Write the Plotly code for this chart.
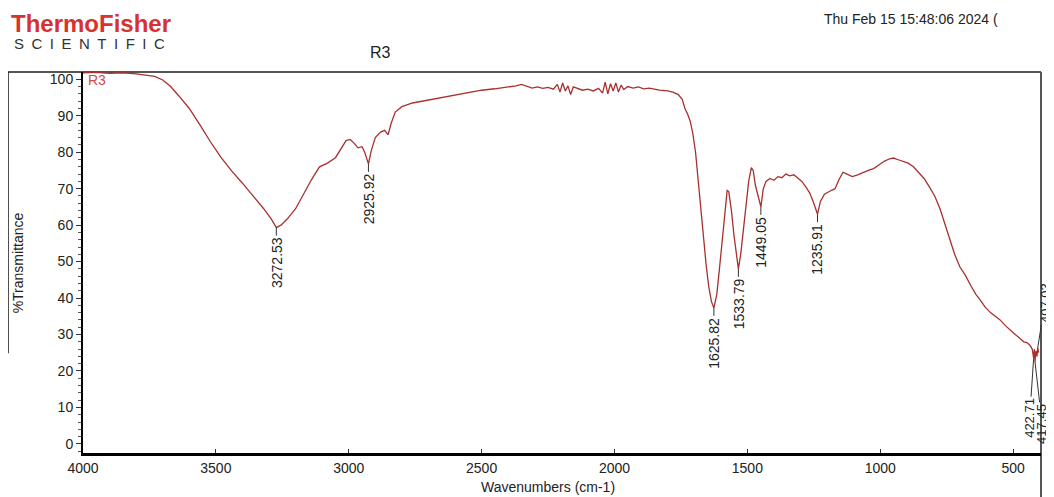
import plotly.graph_objects as go

# ---- data ----
wavenumber = [4000, 3950, 3900, 3850, 3800, 3760, 3730, 3700, 3670, 3640, 3600, 3560, 3520, 3480,
              3440, 3400, 3360, 3320, 3290, 3272.53, 3255, 3230, 3200, 3170, 3140, 3110, 3080, 3050,
              3030, 3010, 2995, 2980, 2965, 2950, 2940, 2925.92, 2915, 2900, 2880, 2865, 2852, 2840,
              2825, 2800, 2760, 2700, 2650, 2600, 2550, 2500, 2450, 2400, 2370, 2350, 2330, 2310,
              2290, 2270, 2250, 2230, 2215, 2205, 2195, 2185, 2175, 2165, 2155, 2140, 2120, 2100,
              2080, 2060, 2045, 2035, 2025, 2015, 2005, 1995, 1985, 1975, 1965, 1950, 1930, 1910,
              1890, 1870, 1850, 1830, 1800, 1780, 1760, 1745, 1735, 1725, 1715, 1705, 1695, 1685,
              1675, 1665, 1655, 1645, 1635, 1625.82, 1615, 1605, 1595, 1585, 1576, 1570, 1560, 1550,
              1540, 1533.79, 1525, 1515, 1505, 1495, 1485, 1478, 1470, 1460, 1449.05, 1440, 1430,
              1415, 1400, 1385, 1370, 1355, 1340, 1325, 1310, 1295, 1280, 1265, 1250, 1235.91, 1225,
              1210, 1190, 1170, 1155, 1140, 1125, 1105, 1085, 1065, 1045, 1025, 1005, 985, 965, 950,
              935, 915, 895, 875, 855, 835, 815, 795, 775, 755, 737, 720, 700, 680, 660, 640, 624,
              605, 585, 565, 549, 530, 512, 492, 475, 460, 448, 436, 428, 422.71, 420, 417.45, 414,
              410, 407.03, 404]
transmittance = [101.8, 101.9, 101.6, 101.8, 101.5, 101.2, 100.8, 99.8, 98.0, 95.5, 92.0, 87.5, 82.8,
                 78.5, 74.8, 71.5, 68.0, 64.5, 61.5, 59.3, 60.0, 61.8, 64.5, 68.5, 72.5, 76.0, 77.0,
                 78.5, 81.0, 83.2, 83.5, 82.5, 81.2, 81.5, 80.0, 76.8, 80.5, 84.0, 85.5, 86.0, 84.8,
                 88.0, 91.0, 92.5, 93.5, 94.3, 95.0, 95.8, 96.5, 97.0, 97.4, 97.8, 98.2, 98.6, 98.2,
                 97.6, 97.9, 97.5, 97.8, 97.3, 98.6, 96.5, 99.0, 96.8, 98.2, 95.8, 97.9, 97.5, 97.0,
                 97.3, 96.8, 97.5, 96.2, 99.2, 96.0, 98.8, 96.8, 99.0, 96.5, 98.4, 97.2, 98.0, 97.6,
                 97.9, 97.4, 97.6, 97.2, 97.0, 96.8, 96.5, 95.8, 94.5, 92.0, 90.5, 88.5, 85.0, 80.0,
                 72.0, 64.0, 56.0, 49.0, 43.0, 39.0, 37.3, 41.0, 48.0, 56.0, 63.5, 69.5, 69.2, 64.0,
                 57.0, 50.5, 48.0, 52.0, 58.5, 66.0, 72.0, 75.8, 75.0, 71.0, 68.0, 65.0, 70.0, 72.0,
                 72.8, 72.3, 73.3, 73.0, 74.0, 73.5, 73.8, 73.0, 72.0, 70.5, 68.8, 66.0, 63.0, 66.5,
                 68.5, 69.3, 70.0, 72.5, 74.5, 74.0, 73.3, 73.8, 74.5, 75.0, 75.5, 76.5, 77.5, 78.2,
                 78.4, 78.0, 77.6, 77.0, 76.0, 74.5, 72.8, 70.5, 68.0, 64.5, 60.0, 56.0, 52.0, 48.5,
                 46.3, 43.5, 41.0, 39.5, 37.5, 36.0, 35.0, 34.0, 32.5, 31.2, 30.0, 29.0, 28.0, 27.8,
                 27.0, 26.0, 23.5, 26.0, 22.5, 25.5, 24.0, 26.5, 25.0]

peak_labels = ["3272.53", "2925.92", "1625.82", "1533.79", "1449.05", "1235.91"]
peak_wn = [3272.53, 2925.92, 1625.82, 1533.79, 1449.05, 1235.91]
peak_t = [59.3, 76.8, 37.3, 48.0, 65.0, 63.0]

end_labels = ["422.71", "417.45", "407.03"]
end_wn = [422.71, 417.45, 407.03]
end_t = [23.5, 22.5, 26.5]

x_ticks = [4000, 3500, 3000, 2500, 2000, 1500, 1000, 500]
y_ticks = [0, 10, 20, 30, 40, 50, 60, 70, 80, 90, 100]

FONT = "Liberation Sans, Arial, sans-serif"

fig = go.Figure()
fig.add_trace(go.Scatter(x=wavenumber, y=transmittance, mode="lines",
                         line=dict(color="#a8302e", width=1.3), hoverinfo="skip"))

# peak labels beneath each peak
for lab, xv, yv in zip(peak_labels, peak_wn, peak_t):
    fig.add_annotation(x=xv, y=yv, text=lab, textangle=-90, showarrow=True,
                       arrowhead=0, arrowwidth=1, arrowcolor="#333", ax=0, ay=35,
                       standoff=0, font=dict(family=FONT, size=14, color="#222"))

# crowded labels at the low-wavenumber end
end_offsets = [(-4, 60), (7, 62), (7, -44)]
for lab, xv, yv, (dx, dy) in zip(end_labels, end_wn, end_t, end_offsets):
    fig.add_annotation(x=xv, y=yv, text=lab, textangle=-90, showarrow=True,
                       arrowhead=0, arrowwidth=1, arrowcolor="#333", ax=dx, ay=dy,
                       standoff=0, font=dict(family=FONT, size=13, color="#222"))

# texts around the chart
fig.add_annotation(xref="paper", yref="paper", x=-0.0772, y=1.128, xanchor="left", yanchor="middle",
                   text="<b>ThermoFisher</b>", showarrow=False,
                   font=dict(family=FONT, size=24, color="#d8322e"))
fig.add_annotation(xref="paper", yref="paper", x=-0.0745, y=1.0735, xanchor="left", yanchor="middle",
                   text="\u2002".join("SCIENTIFIC"), showarrow=False,
                   font=dict(family=FONT, size=15, color="#333"))
fig.add_annotation(xref="paper", yref="paper", x=0.7714, y=1.139, xanchor="left", yanchor="middle",
                   text="Thu Feb 15 15:48:06 2024 (", showarrow=False,
                   font=dict(family=FONT, size=14, color="#222"))
fig.add_annotation(xref="paper", yref="paper", x=0.311, y=1.05, xanchor="center", yanchor="middle",
                   text="R3", showarrow=False, font=dict(family=FONT, size=16, color="#222"))
fig.add_annotation(xref="paper", yref="paper", x=0.003, y=0.979, xanchor="left", yanchor="middle",
                   text="R3", showarrow=False, font=dict(family=FONT, size=14, color="#d04a4a"))
fig.add_annotation(xref="paper", yref="paper", x=-0.068, y=0.5, xanchor="center", yanchor="middle",
                   text="%Transmittance", textangle=-90, showarrow=False,
                   font=dict(family=FONT, size=14, color="#222"))
fig.add_annotation(xref="paper", yref="paper", x=0.4854, y=-0.089, xanchor="center", yanchor="middle",
                   text="Wavenumbers (cm-1)", showarrow=False,
                   font=dict(family=FONT, size=14, color="#222"))

# page frame lines (drawn below the texts)
frame = dict(color="#555", width=2)
fig.add_shape(type="line", xref="paper", yref="paper", x0=-0.0804, x1=1.0, y0=1.0, y1=1.0,
              line=frame, layer="below")
fig.add_shape(type="line", xref="paper", yref="paper", x0=-0.0785, x1=-0.0785, y0=0.262, y1=1.0,
              line=dict(color="#222", width=2), layer="below")
fig.add_shape(type="line", xref="paper", yref="paper", x0=1.0, x1=1.0, y0=1.0, y1=-0.14,
              line=frame, layer="below")

# the page body adds an 8px offset, so the figure is 8px smaller and margins shifted
fig.update_layout(
    width=1046, height=489,
    margin=dict(l=75, r=13, t=64, b=44),
    paper_bgcolor="white", plot_bgcolor="white",
    showlegend=False,
    font=dict(family=FONT, size=14, color="#222"),
    xaxis=dict(range=[4000, 395], tickvals=x_ticks, ticks="inside", ticklen=4, tickwidth=1,
               tickcolor="#333", showline=True, linecolor="black", linewidth=2.5,
               showgrid=False, zeroline=False, tickfont=dict(family=FONT, size=14, color="#222")),
    yaxis=dict(range=[-2.5, 102], tickvals=y_ticks, ticks="outside", ticklen=5, tickwidth=1,
               tickcolor="#333", showline=True, linecolor="black", linewidth=2,
               showgrid=False, zeroline=False, tickfont=dict(family=FONT, size=14, color="#222"),
               minor=dict(dtick=2, ticks="outside", ticklen=3, tickcolor="#555", showgrid=False)),
)

fig.write_html("out.html")
